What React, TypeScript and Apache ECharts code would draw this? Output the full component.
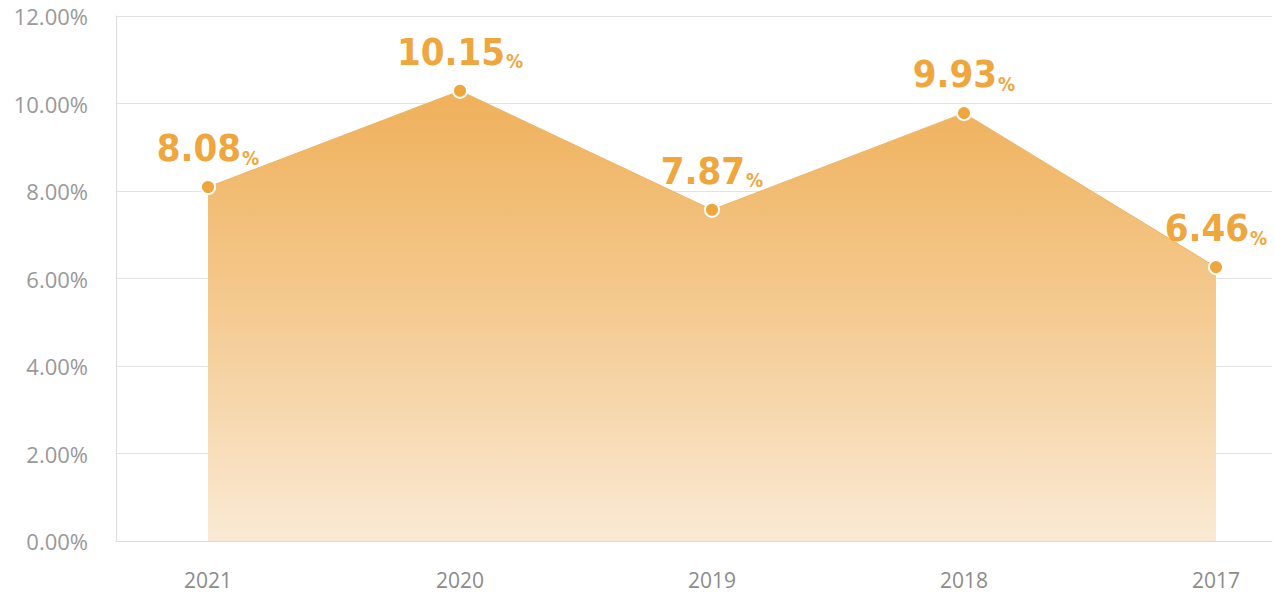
import React, { useEffect, useRef } from "react";
import * as echarts from "echarts";

const categories = ["2021", "2020", "2019", "2018", "2017"];
// plotted positions
const values = [8.09, 10.29, 7.57, 9.78, 6.26];
// label texts as printed above each point
const labelTexts = ["8.08", "10.15", "7.87", "9.93", "6.46"];
const yTicks = [0, 2, 4, 6, 8, 10, 12];

export default function App() {
  const ref = useRef<HTMLDivElement>(null);
  useEffect(() => {
    if (!ref.current) return;
    const chart = echarts.init(ref.current, undefined, { renderer: "svg" });
    const yMin = yTicks[0];
    const yMax = yTicks[yTicks.length - 1];
    const labelFont = '"DejaVu Sans Condensed", "DejaVu Sans", sans-serif';
    chart.setOption({
      animation: false,
      backgroundColor: "#ffffff",
      grid: [
        { left: 116, right: 2, top: 16, bottom: 52 },
        { left: 208, right: 58, top: 16, bottom: 52 },
      ],
      xAxis: [
        {
          gridIndex: 0,
          type: "value",
          min: 0,
          max: 1,
          axisLine: { show: true, lineStyle: { color: "#dcdcdc", width: 1 } },
          axisTick: { show: false },
          axisLabel: { show: false },
          splitLine: { show: false },
        },
        {
          gridIndex: 1,
          type: "category",
          data: categories,
          boundaryGap: false,
          axisLine: { show: false },
          axisTick: { show: false },
          axisLabel: {
            color: "#8c8c8c",
            fontSize: 21,
            lineHeight: 22,
            fontFamily: "Open Sans",
            margin: 28,
          },
        },
      ],
      yAxis: [
        {
          gridIndex: 0,
          type: "value",
          min: yMin,
          max: yMax,
          interval: 2,
          axisLine: { show: true, lineStyle: { color: "#dcdcdc", width: 1 } },
          axisTick: { show: false },
          axisLabel: {
            color: "#999999",
            fontSize: 22,
            fontFamily: "Open Sans",
            margin: 28,
            formatter: (v: number) => v.toFixed(2) + "%",
          },
          splitLine: { show: true, lineStyle: { color: "#e3e3e3", width: 1 } },
        },
        {
          gridIndex: 1,
          type: "value",
          min: yMin,
          max: yMax,
          show: false,
        },
      ],
      series: [
        {
          type: "line",
          xAxisIndex: 1,
          yAxisIndex: 1,
          data: values,
          symbol: "circle",
          symbolSize: 14,
          itemStyle: { color: "#EFA63C", borderColor: "#ffffff", borderWidth: 2 },
          lineStyle: { color: "#F0B462", width: 1 },
          areaStyle: {
            opacity: 1,
            color: new echarts.graphic.LinearGradient(0, 0, 0, 1, [
              { offset: 0, color: "#EFB05A" },
              { offset: 0.5, color: "#F4CB92" },
              { offset: 1, color: "#FAEAD5" },
            ]),
          },
          label: {
            show: true,
            position: "top",
            distance: 12,
            formatter: (p: any) => "{v|" + labelTexts[p.dataIndex] + "}{p|%}",
            rich: {
              v: {
                color: "#EFA63C",
                fontSize: 38,
                fontWeight: "bold",
                fontFamily: labelFont,
                lineHeight: 40,
                verticalAlign: "bottom",
              },
              p: {
                color: "#EFA63C",
                fontSize: 19,
                fontWeight: "bold",
                fontFamily: labelFont,
                lineHeight: 40,
                verticalAlign: "bottom",
                padding: [0, 0, 0, 1],
              },
            },
          },
        },
      ],
    });
    return () => chart.dispose();
  }, []);
  return (
    <div
      ref={ref}
      style={{ position: "fixed", left: 0, top: 0, width: 1274, height: 593 }}
    />
  );
}
